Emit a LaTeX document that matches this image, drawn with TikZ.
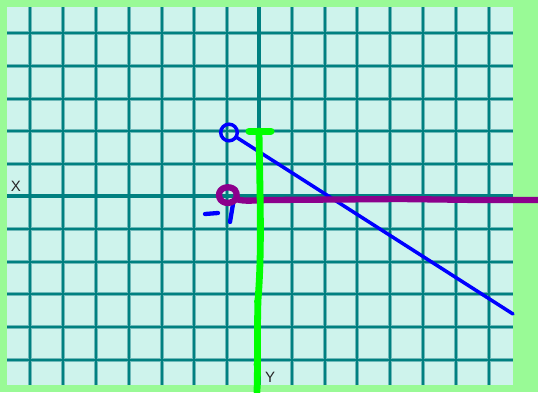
\documentclass[tikz,border=0pt]{standalone}
\usepackage{fontspec}
\setmainfont{Liberation Sans}
\definecolor{bordergreen}{RGB}{153,250,150}
\definecolor{paper}{RGB}{206,243,236}
\definecolor{gridteal}{RGB}{0,128,128}
\definecolor{gridhalo}{RGB}{110,185,185}
\definecolor{penblue}{RGB}{0,0,255}
\definecolor{penpurple}{RGB}{140,0,140}
\definecolor{pengreen}{RGB}{0,255,0}
\tikzset{
  gridhaloline/.style={gridhalo, line width=3.6pt},
  gridline/.style={gridteal, line width=2pt},
  axisline/.style={gridteal, line width=4.6pt},
  bluepen/.style={penblue, line width=3.5pt, line cap=round, line join=round},
  purplepen/.style={penpurple, line width=6.3pt, line cap=round, line join=round},
  greenpen/.style={pengreen, line width=6.8pt, line cap=round, line join=round},
  axislabel/.style={font=\fontsize{15}{15}\selectfont, text=black!85, inner sep=0pt}
}
\begin{document}
\begin{tikzpicture}[x=1pt,y=-1pt]
\useasboundingbox (0,0) rectangle (538,392);
\fill[bordergreen] (0,0) rectangle (538,392);
\fill[paper] (7,7) rectangle (513,385);
% grid
\foreach \x in {30,63,96,129,162,194,227,292,325,357,390,423,456,489}
  {\draw[gridhaloline] (\x,7) -- (\x,385);}
\foreach \y in {33,66,99,131,164,229,262,294,327,360}
  {\draw[gridhaloline] (7,\y) -- (513,\y);}
\foreach \x in {30,63,96,129,162,194,227,292,325,357,390,423,456,489}
  {\draw[gridline] (\x,7) -- (\x,385);}
\foreach \y in {33,66,99,131,164,229,262,294,327,360}
  {\draw[gridline] (7,\y) -- (513,\y);}
% axes
\draw[axisline] (259,7) -- (259,385);
\draw[axisline] (7,196) -- (513,196);
% labels
\node[axislabel] (xlabel) at (16,186) {X};
\node[axislabel] (ylabel) at (270,377) {Y};
% blue line with open circle
\coordinate (bluestart) at (236,137);
\coordinate (blueend) at (513,314);
\draw[bluepen] (229,132.5) circle[radius=8.3];
\draw[bluepen] (bluestart) -- (blueend);
% blue "-1"
\draw[bluepen, line width=4.3pt] (205,214) -- (218,213);
\draw[bluepen, line width=4.3pt] (233,204) -- (230,222);
% purple line with loop
\coordinate (purpleend) at (538,200);
\draw[purplepen] (236,199) .. controls (230,206) and (219,203) .. (219,195)
  .. controls (219,187) and (230,185) .. (235,190)
  .. controls (238,194) and (236,199) .. (236,199)
  .. controls (245,202) and (255,200) .. (270,200)
  -- (400,199) -- (480,200) -- (purpleend);
% green vertical with T bar
\coordinate (greentop) at (259,131);
\coordinate (greenbottom) at (257,392);
\draw[greenpen, line width=7pt] (249,131) -- (271,131);
\draw[greenpen] (greentop) .. controls (260,200) and (262,250) .. (258,300)
  .. controls (257,330) and (258,360) .. (greenbottom);
\draw[greenpen, line width=3.5pt] (255.5,302) -- (258,298);
\draw[greenpen, line width=3.5pt] (255,365) -- (258,360);
\end{tikzpicture}
\end{document}
